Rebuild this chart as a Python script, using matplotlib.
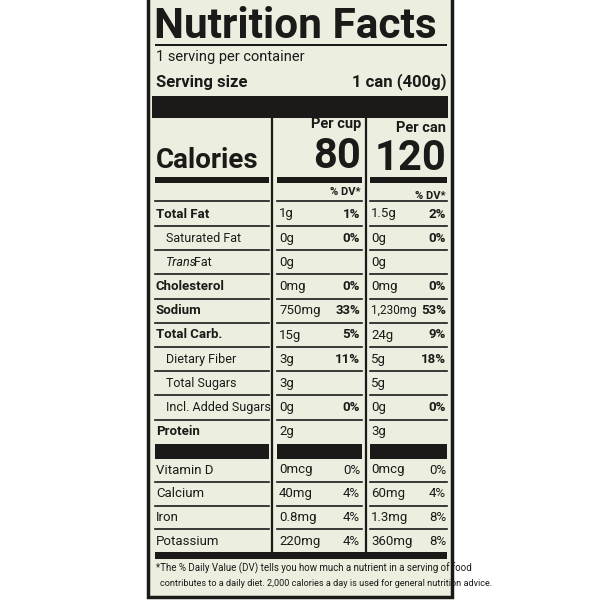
import matplotlib
matplotlib.use("Agg")
import matplotlib.pyplot as plt

nutrients = ["Total Fat", "Saturated Fat", "Trans Fat", "Cholesterol", "Sodium", "Total Carb.",
             "Dietary Fiber", "Total Sugars", "Incl. Added Sugars", "Protein"]
bold_row = [True, False, False, True, True, True, False, False, False, True]
indent = [0, 1, 1, 0, 0, 0, 1, 1, 2, 0]
cup_amt = ["1g", "0g", "0g", "0mg", "750mg", "15g", "3g", "3g", "0g", "2g"]
cup_dv = ["1%", "0%", "", "0%", "33%", "5%", "11%", "", "0%", ""]
can_amt = ["1.5g", "0g", "0g", "0mg", "1,230mg", "24g", "5g", "5g", "0g", "3g"]
can_dv = ["2%", "0%", "", "0%", "53%", "9%", "18%", "", "0%", ""]
vitamins = ["Vitamin D", "Calcium", "Iron", "Potassium"]
vit_cup_amt = ["0mcg", "40mg", "0.8mg", "220mg"]
vit_cup_dv = ["0%", "4%", "4%", "4%"]
vit_can_amt = ["0mcg", "60mg", "1.3mg", "360mg"]
vit_can_dv = ["0%", "4%", "8%", "8%"]
cal_cup, cal_can = "80", "120"

BG = "#eceedf"
INK = "#1c1a18"
plt.rcParams['font.family'] = ["Roboto", "DejaVu Sans"]

fig = plt.figure(figsize=(6, 6), dpi=100, facecolor="white")
ax = fig.add_axes([0, 0, 1, 1])
ax.set_xlim(0, 600); ax.set_ylim(600, 0); ax.axis("off")
ax.add_patch(plt.Rectangle((148, -5), 304, 602, facecolor=BG, edgecolor=INK, lw=2.5))

def t(x, y, s, size=9.5, bold=False, ha="left", style="normal"):
    ax.text(x, y, s, fontsize=size, fontweight="bold" if bold else "normal", ha=ha, va="center",
            color=INK, style=style)

def bar(x0, x1, y0, y1):
    ax.add_patch(plt.Rectangle((x0, y0), x1 - x0, y1 - y0, facecolor=INK, edgecolor="none"))

t(154, 27, "Nutrition Facts", size=30.5, bold=True)
bar(155, 447, 44, 46)
t(156, 57, "1 serving per container", size=10.5)
t(156, 82, "Serving size", size=12, bold=True)
t(447, 82, "1 can (400g)", size=12, bold=True, ha="right")
bar(152, 448, 96, 118)

cols = [(155, 269), (277, 362), (370, 447)]
ax.plot([272, 272], [118, 553], color=INK, lw=1.6)
ax.plot([366, 366], [118, 553], color=INK, lw=1.6)

t(361, 124, "Per cup", size=10.5, bold=True, ha="right")
t(361, 156, cal_cup, size=30, bold=True, ha="right")
t(446, 128, "Per can", size=10.5, bold=True, ha="right")
t(446, 158, cal_can, size=30, bold=True, ha="right")
t(156, 160, "Calories", size=20, bold=True)
for a, b in cols:
    bar(a, b, 177, 183)
t(361, 192, "% DV*", size=8, bold=True, ha="right")
t(446, 196, "% DV*", size=8, bold=True, ha="right")
for a, b in cols:
    ax.plot([a, b], [201, 201], color=INK, lw=1.2)

y0, dy = 214, 24.2
for i, n in enumerate(nutrients):
    y = y0 + i * dy
    label_x = 156 + [0, 10, 10, 20][indent[i]]
    if n == "Trans Fat":
        ax.text(label_x, y, "Trans", fontsize=9, style="italic", va="center", color=INK)
        ax.text(label_x + 28, y, "Fat", fontsize=9, va="center", color=INK)
    elif indent[i]:
        t(label_x, y, n, size=9)
    else:
        t(label_x, y, n, size=9.5, bold=bold_row[i])
    t(279, y, cup_amt[i], size=9.5)
    t(360, y, cup_dv[i], size=9.5, bold=True, ha="right")
    t(371, y, can_amt[i], size=8.5 if len(can_amt[i]) > 5 else 9.5)
    t(446, y, can_dv[i], size=9.5, bold=True, ha="right")
    if i < len(nutrients) - 1:
        for a, b in cols:
            ax.plot([a, b], [y + 12, y + 12], color=INK, lw=1.2)
for a, b in cols:
    bar(a, b, 444, 459)

y0 = 470
for i, n in enumerate(vitamins):
    y = y0 + i * 23.7
    t(156, y, n, size=9.5)
    t(279, y, vit_cup_amt[i], size=9.5)
    t(360, y, vit_cup_dv[i], size=9.5, ha="right")
    t(371, y, vit_can_amt[i], size=9.5)
    t(446, y, vit_can_dv[i], size=9.5, ha="right")
    if i < len(vitamins) - 1:
        for a, b in cols:
            ax.plot([a, b], [y + 12, y + 12], color=INK, lw=1.2)
bar(155, 447, 552, 559)
t(156, 568, "*The % Daily Value (DV) tells you how much a nutrient in a serving of food", size=7)
t(160, 583, "contributes to a daily diet. 2,000 calories a day is used for general nutrition advice.", size=6.6)

fig.savefig("out.png", dpi=100, facecolor="white")
